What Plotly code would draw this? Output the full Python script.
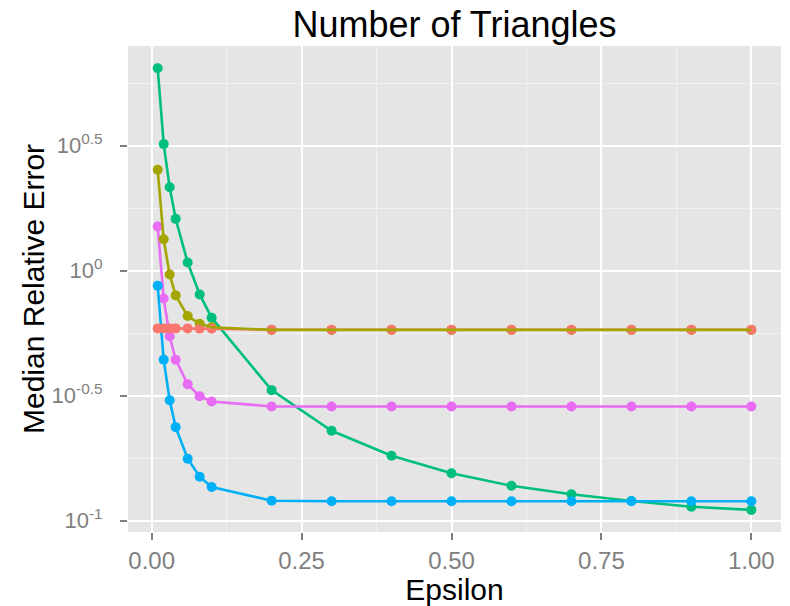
import plotly.graph_objects as go

epsilon = [0.01, 0.02, 0.03, 0.04, 0.06, 0.08, 0.1, 0.2, 0.3, 0.4, 0.5, 0.6, 0.7, 0.8, 0.9, 1.0]

series_red = [0.588, 0.588, 0.588, 0.588, 0.588, 0.587, 0.586, 0.581, 0.581, 0.581, 0.581, 0.581, 0.581, 0.581, 0.581, 0.581]
series_olive = [2.537, 1.337, 0.966, 0.797, 0.659, 0.614, 0.594, 0.580, 0.580, 0.580, 0.580, 0.580, 0.580, 0.580, 0.580, 0.580]
series_green = [6.46, 3.21, 2.157, 1.613, 1.079, 0.804, 0.649, 0.333, 0.229, 0.182, 0.155, 0.138, 0.1276, 0.120, 0.1138, 0.1105]
series_blue = [0.871, 0.441, 0.3035, 0.2368, 0.177, 0.150, 0.1364, 0.1203, 0.1196, 0.1196, 0.1196, 0.1196, 0.1196, 0.1196, 0.1196, 0.1196]
series_pink = [1.503, 0.775, 0.547, 0.441, 0.3516, 0.315, 0.300, 0.2865, 0.2865, 0.2865, 0.2865, 0.2865, 0.2865, 0.2865, 0.2865, 0.2865]

x_tickvals = [0, 0.25, 0.5, 0.75, 1.0]
x_ticktext = ["0.00", "0.25", "0.50", "0.75", "1.00"]
x_minor = [0.125, 0.375, 0.625, 0.875]
y_tickvals = [10 ** -1, 10 ** -0.5, 10 ** 0, 10 ** 0.5]
y_ticktext = ["10<sup>-1</sup>", "10<sup>-0.5</sup>", "10<sup>0</sup>", "10<sup>0.5</sup>"]
y_minor = [10 ** -0.75, 10 ** -0.25, 10 ** 0.25, 10 ** 0.75]

C_RED = "#F8766D"
C_OLIVE = "#A3A500"
C_GREEN = "#00BF7D"
C_BLUE = "#00B0F6"
C_PINK = "#E76BF3"

LW = 2.6
MS = 10

fig = go.Figure()

def add(y, color, name, mode):
    fig.add_trace(go.Scatter(
        x=epsilon, y=y, mode=mode, name=name, showlegend=False,
        line=dict(color=color, width=LW),
        marker=dict(color=color, size=MS, line=dict(width=0)),
    ))

add(series_green, C_GREEN, "green", "lines+markers")
add(series_pink, C_PINK, "pink", "lines+markers")
add(series_blue, C_BLUE, "blue", "lines+markers")
add(series_olive, C_OLIVE, "olive", "markers")
add(series_red, C_RED, "red", "markers")
add(series_red, C_RED, "red", "lines")
add(series_olive, C_OLIVE, "olive", "lines")

FONT = "Liberation Sans, Arial, Helvetica, sans-serif"
L, R, T, B = 128, 9, 46, 74
W, H = 790, 606

fig.update_layout(
    width=W, height=H,
    margin=dict(l=L, r=R, t=T, b=B, autoexpand=False),
    paper_bgcolor="white",
    plot_bgcolor="#E5E5E5",
    font=dict(family=FONT),
    title=dict(text="Number of Triangles", x=0.5, xref="paper", xanchor="center",
               y=1 - 24 / H, yref="container", yanchor="middle",
               font=dict(size=36, color="black", family=FONT)),
    xaxis=dict(
        range=[-0.0395, 1.0495], showline=False, zeroline=False,
        tickmode="array", tickvals=x_tickvals, ticktext=x_ticktext,
        ticks="outside", ticklen=7, tickwidth=1.5, tickcolor="#7F7F7F",
        tickfont=dict(size=24, color="#7F7F7F", family=FONT),
        showgrid=True, gridcolor="white", gridwidth=2,
        minor=dict(tickvals=x_minor, showgrid=True, gridcolor="#F2F2F2", gridwidth=1, ticks=""),
        title=dict(text="Epsilon", font=dict(size=30, color="black", family=FONT), standoff=2),
        automargin=False,
    ),
    yaxis=dict(
        type="log", range=[-1.045, 0.899], showline=False, zeroline=False,
        tickmode="array", tickvals=y_tickvals, ticktext=y_ticktext,
        ticks="outside", ticklen=7, tickwidth=1.5, tickcolor="#7F7F7F",
        tickfont=dict(size=22, color="#7F7F7F", family=FONT),
        ticklabelstandoff=13,
        showgrid=True, gridcolor="white", gridwidth=2,
        minor=dict(tickvals=y_minor, showgrid=True, gridcolor="#F2F2F2", gridwidth=1, ticks=""),
        automargin=False,
    ),
    annotations=[dict(
        text="Median Relative Error", textangle=-90,
        xref="paper", yref="paper",
        x=(33 - L) / (W - L - R), y=0.5, xanchor="center", yanchor="middle",
        showarrow=False, font=dict(size=30, color="black", family=FONT),
    )],
)

fig.write_html("out.html", config={"displayModeBar": False},
               post_script="document.body.style.margin='0';document.body.style.padding='0';")
